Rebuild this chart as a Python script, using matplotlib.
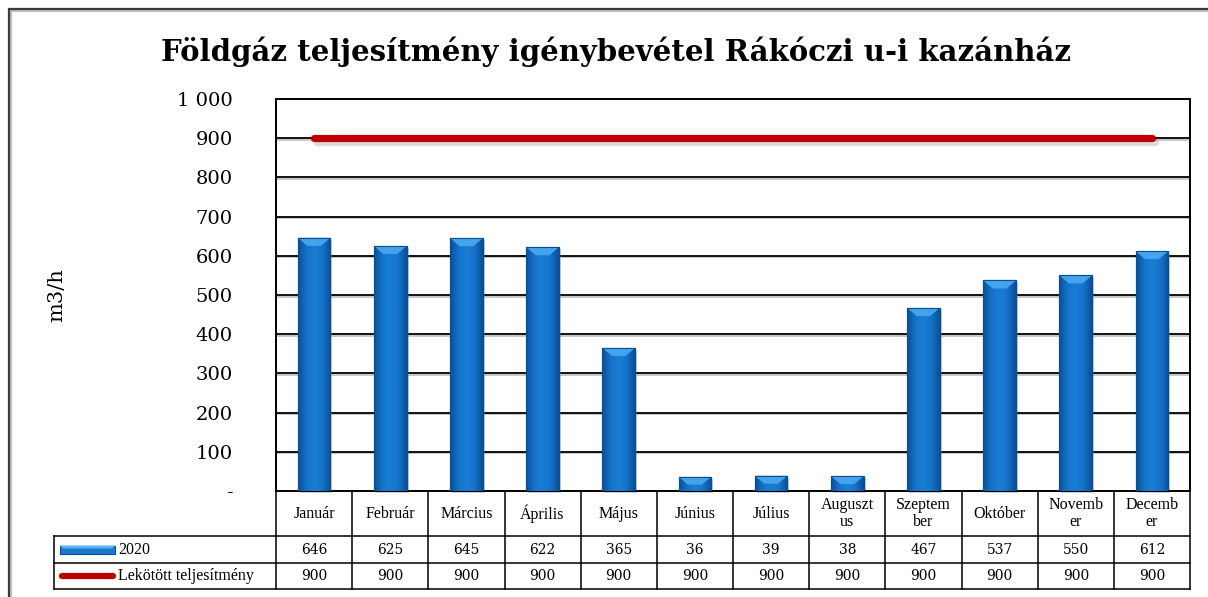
import numpy as np
import matplotlib
matplotlib.use("Agg")
import matplotlib.pyplot as plt
from matplotlib.patches import Rectangle, Polygon
from matplotlib.colors import LinearSegmentedColormap
import matplotlib.patheffects as pe

# ---------------- data ----------------
title = "Földgáz teljesítmény igénybevétel Rákóczi u-i kazánház"
months = ["Január", "Február", "Március", "Április", "Május", "Június",
          "Július", "Auguszt\nus", "Szeptem\nber", "Október", "Novemb\ner", "Decemb\ner"]
values_2020 = [646, 625, 645, 622, 365, 36, 39, 38, 467, 537, 550, 612]
contracted = [900, 900, 900, 900, 900, 900, 900, 900, 900, 900, 900, 900]
series_names = ["2020", "Lekötött teljesítmény"]
y_ticks = [0, 100, 200, 300, 400, 500, 600, 700, 800, 900, 1000]
y_ticklabels = ["-", "100", "200", "300", "400", "500", "600", "700", "800", "900", "1 000"]
y_label = "m3/h"

# ---------------- layout ----------------
W, H = 1208, 597
fig = plt.figure(figsize=(W / 100, H / 100), dpi=100)
SERIF = ["DejaVu Serif"]
TIMES = ["Liberation Serif", "DejaVu Serif"]

# outer frame
frame = Rectangle((9 / W, -0.05), 1.1, 1 - 9 / H + 0.05, transform=fig.transFigure,
                  fill=False, edgecolor="#3a3a3a", lw=1.6, zorder=0,
                  path_effects=[pe.SimpleLineShadow(offset=(1.5, -1.5), shadow_color="#999999", alpha=0.6),
                                pe.Normal()])
fig.patches.append(frame)

px_left, px_right, px_top, px_bottom = 276, 1190, 99, 491
ax = fig.add_axes([px_left / W, (H - px_bottom) / H, (px_right - px_left) / W, (px_bottom - px_top) / H])
n = len(months)
x = np.arange(n)
ax.set_xlim(-0.5, n - 0.5)
ax.set_ylim(0, 1000)

# grid
for t in y_ticks[1:-1]:
    ax.axhline(t, color="black", lw=1.3, zorder=1,
               path_effects=[pe.SimpleLineShadow(offset=(0, -1.2), shadow_color="#888888", alpha=0.5),
                             pe.Normal()])
for s in ax.spines.values():
    s.set_color("black")
    s.set_linewidth(1.4)
ax.set_yticks(y_ticks)
ax.set_yticklabels(y_ticklabels, fontsize=14, family=SERIF)
ax.tick_params(axis="y", length=0, pad=31)
ax.set_xticks([])
ax.set_ylabel(y_label, fontsize=15, family=SERIF)
ax.yaxis.set_label_coords((66 - px_left) / (px_right - px_left), 0.5)

# bars with bevel look
bar_w = 0.43
cmap = LinearSegmentedColormap.from_list("bev", ["#08509a", "#1473c9", "#1a7ed6", "#1473c9", "#08509a"])
grad = np.linspace(0, 1, 64).reshape(1, -1)
bars = ax.bar(x, values_2020, width=bar_w, color="#1575cc", edgecolor="#0a4f92", lw=0.8, zorder=3)
dx_unit = n / (px_right - px_left)        # data x per pixel
dy_unit = 1000 / (px_bottom - px_top)     # data y per pixel
cap_px = 8
for b in bars:
    bx, bw, bh = b.get_x(), b.get_width(), b.get_height()
    ax.add_patch(Rectangle((bx + 2 * dx_unit, -2 * dy_unit), bw, bh, color="#777777", alpha=0.35,
                           zorder=2, lw=0, clip_on=False))
    im = ax.imshow(grad, extent=(bx, bx + bw, 0, bh), cmap=cmap, aspect="auto", zorder=3.5)
    im.set_clip_path(b)
    ch = min(cap_px * dy_unit, bh * 0.55)
    cw = cap_px * dx_unit * 1.2
    cap = Polygon([(bx, bh), (bx + bw, bh), (bx + bw - cw, bh - ch), (bx + cw, bh - ch)],
                  closed=True, facecolor="#45a3ec", edgecolor="none", zorder=4)
    ax.add_patch(cap)
    ax.add_patch(Rectangle((bx, 0), bw, bh, fill=False, edgecolor="#0a4f92", lw=0.8, zorder=4.5))
ax.set_xlim(-0.5, n - 0.5)
ax.set_ylim(0, 1000)

# contracted line
ax.plot(x, contracted, color="#c00000", lw=5.2, solid_capstyle="round", zorder=5,
        path_effects=[pe.SimpleLineShadow(offset=(2, -3), shadow_color="#999999", alpha=0.35),
                      pe.Normal()])

# ---------------- data table ----------------
tb_left, tb_bottom = 54, 589
tab = fig.add_axes([tb_left / W, (H - tb_bottom) / H, (px_right - tb_left) / W, (tb_bottom - px_bottom) / H])
x0 = -0.5 - (px_left - tb_left) * dx_unit
tab.set_xlim(x0, n - 0.5)
tab_h = tb_bottom - px_bottom
tab.set_ylim(0, tab_h)
tab.axis("off")
row1_top = tb_bottom - 536
row2_top = tb_bottom - 563
lw_t = 1.1
kw = dict(color="black", lw=lw_t, clip_on=False, solid_capstyle="projecting")
for yy in [row1_top, row2_top, 0]:
    tab.plot([x0, n - 0.5], [yy, yy], **kw)
tab.plot([x0, x0], [0, row1_top], **kw)
for i in range(n + 1):
    tab.plot([i - 0.5, i - 0.5], [0, tab_h], **kw)

for i, m in enumerate(months):
    tab.text(i, (tab_h + row1_top) / 2, m, ha="center", va="center", fontsize=11.5,
             family=TIMES, linespacing=1.1)
    tab.text(i, (row1_top + row2_top) / 2, str(values_2020[i]), ha="center", va="center",
             fontsize=10, family=SERIF)
    tab.text(i, row2_top / 2, str(contracted[i]), ha="center", va="center",
             fontsize=10, family=SERIF)

# legend keys
k0 = x0 + 6 * dx_unit
k1 = x0 + 61 * dx_unit
ky1 = (row1_top + row2_top) / 2
tab.add_patch(Rectangle((k0, ky1 - 4), k1 - k0, 8, facecolor="#1a7ad2", edgecolor="#0a4f92", lw=0.8))
tab.add_patch(Polygon([(k0, ky1 + 4), (k1, ky1 + 4), (k1 - 3 * dx_unit, ky1 + 1), (k0 + 3 * dx_unit, ky1 + 1)],
                      facecolor="#5ab2f2", edgecolor="none"))
ky2 = row2_top / 2
tab.plot([k0 + 2 * dx_unit, k1 - 2 * dx_unit], [ky2, ky2], color="#c00000", lw=4.5, solid_capstyle="round")
tab.text(k1 + 3 * dx_unit, ky1, series_names[0], ha="left", va="center", fontsize=11.5, family=TIMES)
tab.text(k1 + 3 * dx_unit, ky2, series_names[1], ha="left", va="center", fontsize=11.5, family=TIMES)

# title
fig.text(616 / W, 1 - 52 / H, title, ha="center", va="center", fontsize=21,
         fontweight="bold", family=SERIF)

fig.savefig("out.png", dpi=100)
